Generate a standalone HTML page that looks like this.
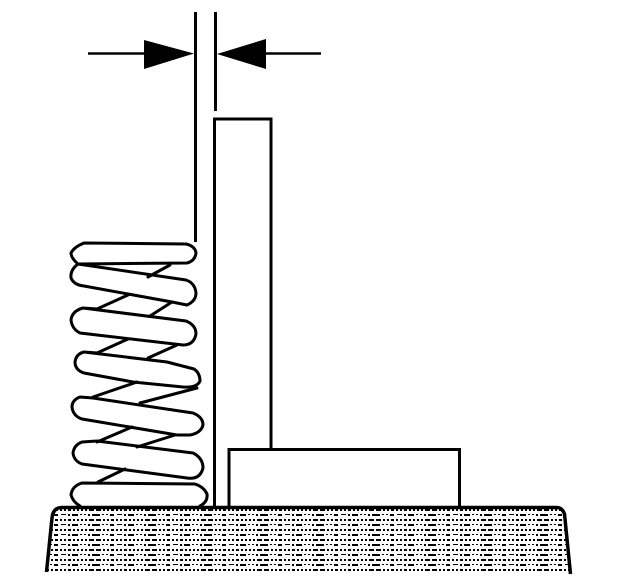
<!DOCTYPE html>
<html>
<head>
<meta charset="utf-8">
<style>
html,body{margin:0;padding:0;background:#fff;width:624px;height:588px;overflow:hidden}
svg{display:block}
</style>
</head>
<body>
<svg width="624" height="588" viewBox="0 0 624 588" xmlns="http://www.w3.org/2000/svg">
<defs>
<pattern id="dots" width="56" height="10" patternUnits="userSpaceOnUse" x="60" y="509">
<rect width="56" height="10" fill="#fff"/>
<g fill="#000">
<path d="M0,0h2v2h-2z M4,0h2v2h-2z M8,0h3v2h-3z M13,0h2v2h-2z M17,0h2v2h-2z M21,0h2v2h-2z M25,0h2v2h-2z M29,0h5v2h-5z M36,0h5v2h-5z M43,0h2v2h-2z M47,0h2v2h-2z M51,0h3v2h-3z"/>
<path d="M1,5h5v1h-5z M8,5h2v2h-2z M12,5h6v2h-6z M20,5h2v1h-2z M24,5h2v1h-2z M28,5h2v2h-2z M32,5h8v2h-8z M42,5h2v1h-2z M46,5h2v1h-2z M50,5h4v2h-4z"/>
</g>
</pattern>
</defs>

<!-- base -->
<path d="M46,572 L52,517 Q53,507 60,507 L558,507 Q563,507 565,513 L571,572 Z" fill="url(#dots)"/>
<path d="M46.500,572 L52,518 Q53,507.500 62,507.500 L557,507.500 Q562,507.500 564.500,514 L570.500,574" fill="none" stroke="#000" stroke-width="3.500"/>

<!-- dimension lines -->
<g stroke="#000" fill="none">
<path d="M195.500,12 V242" stroke-width="3"/>
<path d="M215.500,12 V111" stroke-width="3"/>
<path d="M88,53.500 H146" stroke-width="2.500"/>
<path d="M265,53.500 H321" stroke-width="2.500"/>
</g>
<polygon points="144,40 194,53.500 144,69" fill="#000"/>
<polygon points="266,39 217,54 266,69" fill="#000"/>

<!-- plates -->
<g fill="none" stroke="#000">
<path d="M214.500,506 V119 H271 V449" stroke-width="3"/>
<path d="M229,506 V449.500 H459.500 V506" stroke-width="3"/>
</g>

<!-- spring -->
<g fill="none" stroke="#000" stroke-width="3" stroke-linejoin="round" stroke-linecap="round">
<path d="M84,243 L186,244 Q195,246 196,253 Q195,261 187,263 L78,264 Q71,258 71,253 Q74,247 84,243 Z"/>
<path d="M78,264 Q70,270 71,278 Q74,285 84,286 L172,302 L187,305 Q196,301 196,293 Q195,283 186,280 L78,264"/>
<path d="M148,277 L170,265"/>
<path d="M97,309 L128,295"/>
<path d="M150,316 L172,302"/>
<path d="M97,309 L83,308 Q72,311 71,320 Q72,329 80,333 L183,345 Q194,345 196,334 Q196,325 186,321 L83,308"/>
<path d="M97,353 L128,339"/>
<path d="M148,358 L177,345"/>
<path d="M97,353 L84,352 Q76,354 75,362 Q75,370 84,373 L133,382 L183,387 Q197,388 200,381 Q200,373 194,369 L167,362 L84,352"/>
<path d="M93,397 L137,382"/>
<path d="M140,403 L197,388"/>
<path d="M93,398 L80,397 Q72,400 72,407 Q73,416 82,419 L177,435 L190,435 Q201,433 203,425 Q203,417 193,413 L93,398"/>
<path d="M97,442 L132,427"/>
<path d="M137,447 L175,435"/>
<path d="M97,441 L82,442 Q74,445 73,453 Q74,461 82,464 L187,478 Q200,480 203,468 Q203,458 193,453 L97,441"/>
<path d="M98,482 L125,469"/>
<path d="M82,483 Q72,486 71,495 Q73,502 80,506 M200,506 Q208,502 207,494 Q204,487 195,484 L82,483"/>
</g>
</svg>
</body>
</html>
